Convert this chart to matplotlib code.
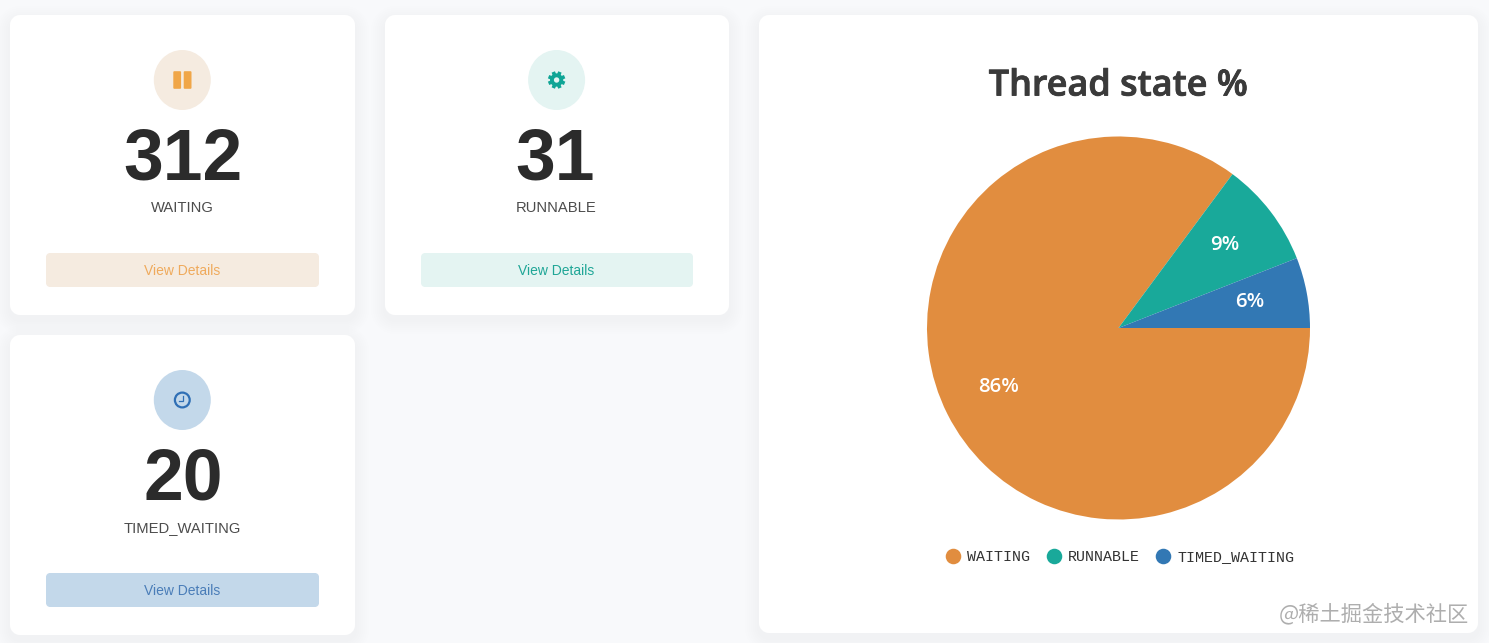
import matplotlib
matplotlib.use("Agg")
import matplotlib.pyplot as plt
import matplotlib.patheffects as pe
from matplotlib.lines import Line2D
from matplotlib.patches import Circle, Ellipse, PathPatch
from matplotlib.path import Path
import numpy as np

# ---- data ----
states = ["WAITING", "RUNNABLE", "TIMED_WAITING"]
counts = [312, 31, 20]
percent = [86, 9, 6]
button_label = "View Details"
title = "Thread state %"
watermark = "@稀土掘金技术社区"

# ---- style ----
W, H = 1489, 643
BG = "#f8f9fb"
pie_colors = ["#e18d3f", "#19a99a", "#3278b4"]
accent = ["#f0a648", "#0fa596", "#2f6fb5"]
tint = ["#f5ebe0", "#e4f4f2", "#c3d8ea"]
btn_text = ["#efaa5c", "#1fa697", "#4a7db8"]
card_xy = [(10, 15), (385, 15), (10, 335)]
card_w = [345, 344, 345]
card_h = 300
center_x = [182.3, 556.6, 182.3]
number_x = [183, 555, 183]

fig = plt.figure(figsize=(W / 100, H / 100), dpi=100, facecolor=BG)
bg = fig.add_axes([0, 0, 1, 1], zorder=0)
bg.set_xlim(0, W)
bg.set_ylim(H, 0)
bg.axis("off")


def rounded(ax, x, y, w, h, r, **kw):
    k = r * (1 - 0.5523)
    x1, y1 = x + w, y + h
    verts = [(x + r, y), (x1 - r, y), (x1 - k, y), (x1, y + k), (x1, y + r),
             (x1, y1 - r), (x1, y1 - k), (x1 - k, y1), (x1 - r, y1),
             (x + r, y1), (x + k, y1), (x, y1 - k), (x, y1 - r),
             (x, y + r), (x, y + k), (x + k, y), (x + r, y), (x + r, y)]
    c4, ln = Path.CURVE4, Path.LINETO
    codes = [Path.MOVETO, ln, c4, c4, c4, ln, c4, c4, c4,
             ln, c4, c4, c4, ln, c4, c4, c4, Path.CLOSEPOLY]
    p = PathPatch(Path(verts, codes), linewidth=0, **kw)
    ax.add_patch(p)
    return p


def card(x, y, w, h):
    for grow in np.arange(14, 0, -2):
        rounded(bg, x - grow, y - grow + 5, w + 2 * grow, h + 2 * grow,
                10 + grow, facecolor="#30405a", alpha=0.0045)
    rounded(bg, x, y, w, h, 10, facecolor="white")


def pause_icon(cx, cy, c):
    for dx in (-9, 1.4):
        rounded(bg, cx + dx, cy - 8.8, 7.8, 17.6, 1, facecolor=c)


def gear_icon(cx, cy, c, back):
    bg.add_patch(Circle((cx, cy), 6.6, facecolor=c, linewidth=0))
    for ang in np.deg2rad(np.arange(0, 360, 45) + 22.5):
        bg.plot([cx + 5 * np.cos(ang), cx + 8.7 * np.cos(ang)],
                [cy + 5 * np.sin(ang), cy + 8.7 * np.sin(ang)],
                color=c, lw=2.6, solid_capstyle="butt")
    bg.add_patch(Circle((cx, cy), 2.7, facecolor=back, linewidth=0))


def clock_icon(cx, cy, c):
    bg.add_patch(Circle((cx, cy), 7.4, facecolor="none", edgecolor=c, linewidth=1.6))
    bg.plot([cx + 0.7, cx + 0.7, cx - 3], [cy - 4, cy + 1.3, cy + 1.3],
            color=c, lw=0.9, solid_joinstyle="miter")


for i, (state, count) in enumerate(zip(states, counts)):
    x, y = card_xy[i]
    w = card_w[i]
    cx = center_x[i]
    card(x, y, w, card_h)
    bg.add_patch(Ellipse((cx, y + 65), 57, 60, facecolor=tint[i], linewidth=0))
    if i == 0:
        pause_icon(cx, y + 65, accent[i])
    elif i == 1:
        gear_icon(cx, y + 65, accent[i], tint[i])
    else:
        clock_icon(cx, y + 65, accent[i])
    bg.text(number_x[i], y + 165, str(count), ha="center", va="baseline",
            family="Liberation Sans", weight="bold", fontsize=51.5, color="#2b2b2b")
    bg.text(x + w / 2 - 0.5, y + 197, state, ha="center", va="baseline",
            family="Liberation Sans", fontsize=10.6, color="#4c4c4c")
    rounded(bg, x + 36, y + 238, w - 72, 34, 4, facecolor=tint[i])
    bg.text(x + w / 2 - 0.5, y + 260, button_label, ha="center", va="baseline",
            family="Liberation Sans", fontsize=10, color=btn_text[i])

card(759, 15, 719, 618)

bg.text(1118.5, 95.5, title, ha="center", va="baseline", family="Open Sans",
        weight="semibold", fontsize=25.9, color="#3a3a3a",
        path_effects=[pe.withStroke(linewidth=0.6, foreground="#3a3a3a")])
bg.text(1469, 620, watermark, ha="right", va="baseline",
        family=["Noto Sans CJK SC", "DejaVu Sans"], weight="light",
        fontsize=15.3, color="#aeaeae")

# ---- pie ----
pcx, pcy, pr = 1118.5, 328, 191.5
pie_ax = fig.add_axes([(pcx - pr) / W, 1 - (pcy + pr) / H, 2 * pr / W, 2 * pr / H], zorder=2)
total = sum(percent)
wedges, _, autotexts = pie_ax.pie(
    percent, colors=pie_colors, startangle=0, counterclock=False, radius=1,
    autopct=lambda p: f"{p * total / 100:.0f}%", pctdistance=0.7,
    textprops=dict(color="white", family="Open Sans", weight="semibold", fontsize=14.7),
    wedgeprops=dict(linewidth=0),
)
for t in autotexts:
    tx, ty = t.get_position()
    t.set_position((tx, ty + 1.5 / pr))
pie_ax.set_xlim(-1, 1)
pie_ax.set_ylim(-1, 1)
pie_ax.set_aspect("equal")
pie_ax.patch.set_alpha(0)

handles = [Line2D([], [], linestyle="none", marker="o", markersize=11.2,
                  markerfacecolor=c, markeredgewidth=0) for c in pie_colors]
fig.legend(handles, states, loc="center", bbox_to_anchor=(1120 / W, 1 - 557 / H),
           ncol=3, frameon=False, handlelength=1.0, handletextpad=0.45,
           columnspacing=1.05, borderpad=0, borderaxespad=0,
           prop=dict(family="Liberation Mono", size=10.8), labelcolor="#333333")

fig.savefig("out.png", dpi=100, facecolor=BG)
